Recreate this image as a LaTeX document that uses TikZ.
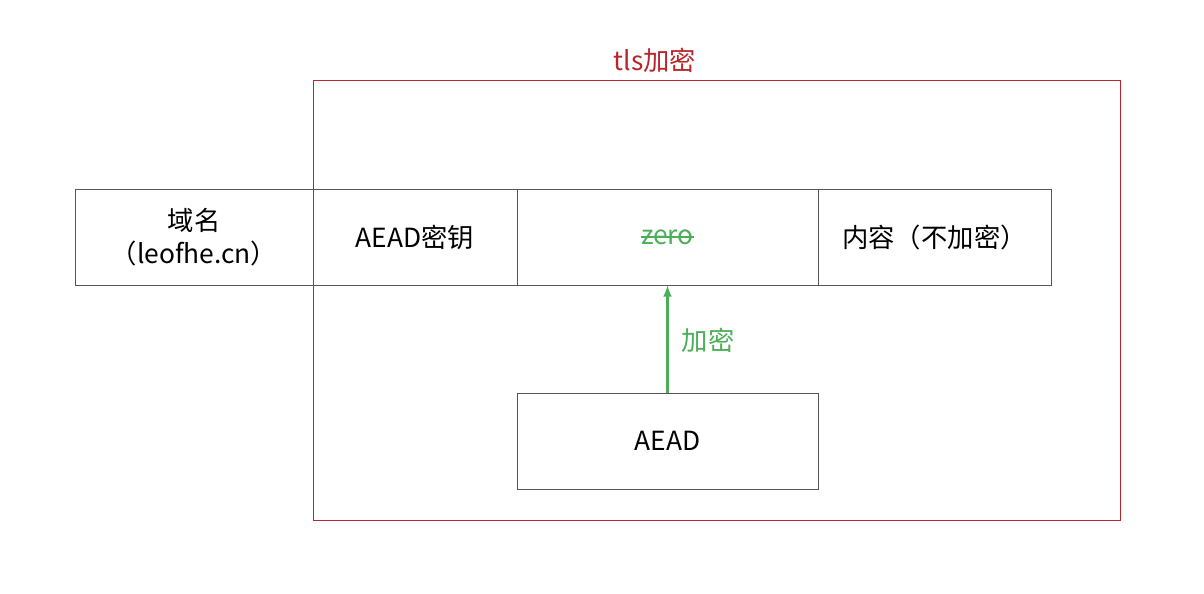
\documentclass[tikz,border=0pt]{standalone}
\usepackage{fontspec}
\setmainfont{Noto Sans CJK SC}
\definecolor{tlsred}{HTML}{B8272B}
\definecolor{encgreen}{HTML}{4DAE58}
\definecolor{boxgray}{HTML}{555555}
\begin{document}
\begin{tikzpicture}
  [ x=0.02cm, y=-0.02cm,
    cell/.style={draw=boxgray, minimum height=1.92cm, inner sep=0pt,
    font=\fontsize{15}{19}\selectfont, align=center},
    enc/.style={draw=encgreen, line width=1.2pt, -latex}
  ]
  \useasboundingbox (0,0) rectangle (1204,594);
  \draw [tlsred] (313,80) rectangle (1120,520);
  \node (tls) at (655,60) [text=tlsred, font=\fontsize{15}{19}\selectfont] {tls加密};

  \node (dom) at (194,237) [cell, minimum width=4.76cm] {域名\\（leofhe.cn）};
  \node (key) at (415,237) [cell, minimum width=4.08cm] {AEAD密钥};
  \node (zer) at (667.5,237) [cell, minimum width=6.02cm] {};
  \node (con) at (934.5,237) [cell, minimum width=4.66cm] {内容（不加密）};
  \node (ztx) at (zer.center) [text=encgreen, inner sep=0pt, font=\fontsize{15}{19}\selectfont] {zero};
  \draw [encgreen, line width=1pt] (ztx.west) -- (ztx.east);

  \node (aea) at (667.5,441) [cell, minimum width=6.02cm] {AEAD};
  \draw [enc] (aea.north) -- (zer.south);
  \node (lbl) at (708,340) [text=encgreen, font=\fontsize{15}{19}\selectfont] {加密};
\end{tikzpicture}
\end{document}
